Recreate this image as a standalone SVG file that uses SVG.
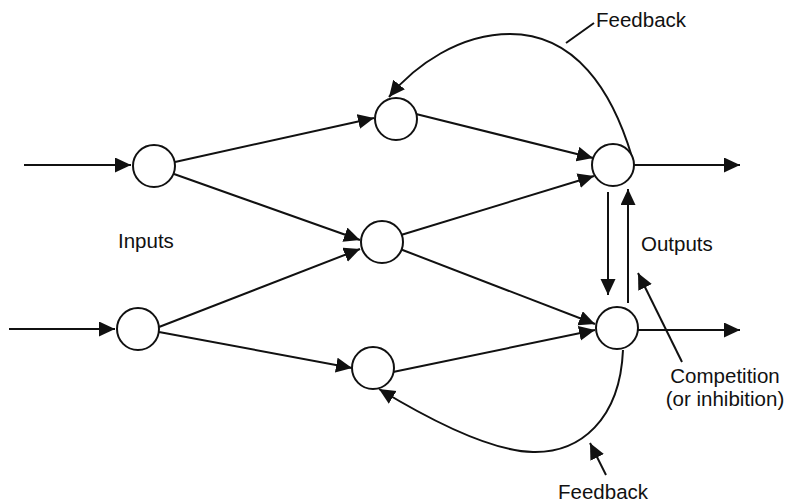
<svg xmlns="http://www.w3.org/2000/svg" width="788" height="504" viewBox="0 0 788 504">
<style>
.node{fill:#fff;stroke:#111;stroke-width:2}
.edge{fill:none;stroke:#111;stroke-width:2;marker-end:url(#ah)}
.plain{fill:none;stroke:#111;stroke-width:2}
text{font-family:"Liberation Sans",Arial,sans-serif;font-size:20.5px;fill:#111}
</style>
<defs>
<marker id="ah" markerUnits="userSpaceOnUse" markerWidth="18" markerHeight="16" refX="16" refY="7.5" orient="auto">
<path d="M0,0 L16,7.5 L0,15 z" fill="#111"/>
</marker>
</defs>
<g id="connectors">
<line class="edge" x1="24" y1="165" x2="131" y2="165"/>
<line class="edge" x1="9" y1="329" x2="115" y2="329"/>
<line class="edge" x1="175" y1="162" x2="374" y2="118"/>
<line class="edge" x1="174" y1="174" x2="360" y2="240"/>
<line class="edge" x1="159" y1="327" x2="360" y2="249"/>
<line class="edge" x1="159" y1="332" x2="352" y2="368"/>
<line class="edge" x1="416" y1="114" x2="593" y2="158"/>
<line class="edge" x1="401" y1="235" x2="594" y2="176"/>
<line class="edge" x1="400" y1="249" x2="595" y2="324"/>
<line class="edge" x1="393" y1="372" x2="595" y2="330"/>
<line class="edge" x1="634" y1="165" x2="740" y2="165"/>
<line class="edge" x1="638" y1="330" x2="740" y2="330"/>
<line class="edge" x1="608" y1="192" x2="608" y2="295"/>
<line class="edge" x1="628" y1="303" x2="628" y2="189"/>
<path class="edge" d="M632,157 C612,90 575,34 510,34 C460,34 415,65 389,97"/>
<path class="edge" d="M623,350 C620,420 580,453 533,452 C490,451 430,420 379,389"/>
<line class="edge" x1="682" y1="362" x2="638" y2="273"/>
<line class="edge" x1="606" y1="475" x2="590" y2="443"/>
<line class="plain" x1="566" y1="43" x2="594" y2="23"/>
</g>
<g id="in1"><circle class="node" cx="154" cy="166" r="21"/></g>
<g id="in2"><circle class="node" cx="138" cy="329" r="21"/></g>
<g id="h1"><circle class="node" cx="396" cy="119" r="21"/></g>
<g id="h2"><circle class="node" cx="382" cy="242" r="21"/></g>
<g id="h3"><circle class="node" cx="373" cy="368" r="21"/></g>
<g id="o1"><circle class="node" cx="613" cy="165" r="21"/></g>
<g id="o2"><circle class="node" cx="617" cy="328" r="21"/></g>
<g id="labels">
<text x="118" y="248">Inputs</text>
<text x="641" y="251">Outputs</text>
<text x="596" y="27">Feedback</text>
<text x="558" y="499">Feedback</text>
<text x="725" y="383" text-anchor="middle">Competition</text>
<text x="725" y="406" text-anchor="middle">(or inhibition)</text>
</g>
</svg>
